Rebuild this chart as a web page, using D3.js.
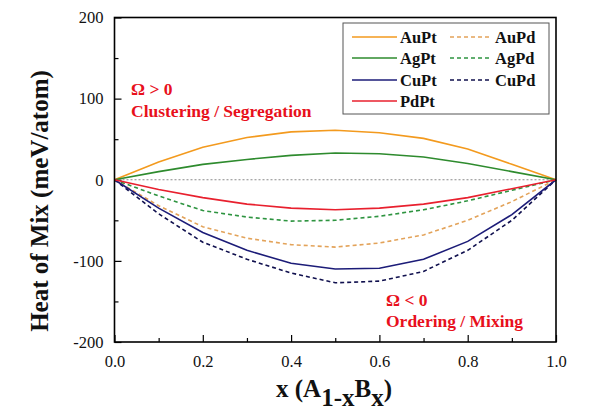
<!DOCTYPE html>
<html>
<head>
<meta charset="utf-8">
<script src="https://cdn.jsdelivr.net/npm/d3@7"></script>
<style>
  body { margin: 0; background: #fff; }
  svg { display: block; }
  text { font-family: "Liberation Serif", "Times New Roman", serif; }
</style>
</head>
<body>
<svg id="chart" width="600" height="418"></svg>
<script>
// composition x, 0 .. 1 step 0.1
const xs = [0, 0.1, 0.2, 0.3, 0.4, 0.5, 0.6, 0.7, 0.8, 0.9, 1.0];

// heat of mix values (meV/atom)
const auPt = [0, 22, 40, 52, 59, 61, 58, 51, 38, 19, 0];
const agPt = [0, 10, 19, 25, 30, 33, 32, 28, 20, 10, 0];
const cuPt = [0, -35, -65, -87, -103, -110, -109, -98, -76, -43, 0];
const pdPt = [0, -12, -22, -30, -35, -37, -35, -30, -22, -11, 0];
const auPd = [0, -32, -58, -72, -80, -83, -78, -68, -50, -27, 0];
const agPd = [0, -20, -38, -46, -51, -50, -45, -37, -26, -13, 0];
const cuPd = [0, -42, -77, -98, -115, -127, -125, -113, -87, -50, 0];

const xTicks = [0, 0.2, 0.4, 0.6, 0.8, 1.0];
const xMinor = [0.1, 0.3, 0.5, 0.7, 0.9];
const yTicks = [-200, -100, 0, 100, 200];
const yMinor = [-150, -50, 50, 150];

const series = [
    { name: 'AuPt', values: auPt, color: '#f39a1e', dash: null },
    { name: 'AgPt', values: agPt, color: '#2e8b2e', dash: null },
    { name: 'CuPt', values: cuPt, color: '#1c1c78', dash: null },
    { name: 'PdPt', values: pdPt, color: '#e8202e', dash: null },
    { name: 'AuPd', values: auPd, color: '#e3a35a', dash: '4,3' },
    { name: 'AgPd', values: agPd, color: '#2e9440', dash: '4,3' },
    { name: 'CuPd', values: cuPd, color: '#10104e', dash: '4,3' }
];

const SERIF = '"Liberation Serif", "Times New Roman", serif';

const svg = d3.select('#chart');
const g = svg.append('g');

const x = d3.scaleLinear().domain([0, 1]).range([114.5, 556]);
const y = d3.scaleLinear().domain([-200, 200]).range([342, 17.5]);

// inward ticks
g.append('g').attr('transform', 'translate(0,' + y(-200) + ')')
    .call(d3.axisBottom(x).tickValues(xTicks).tickFormat(d3.format('.1f')).tickSizeInner(-7).tickSizeOuter(0).tickPadding(13));
g.append('g').attr('transform', 'translate(0,' + y(-200) + ')')
    .call(d3.axisBottom(x).tickValues(xMinor).tickFormat('').tickSizeInner(-4).tickSizeOuter(0));
g.append('g').attr('transform', 'translate(' + x(0) + ',0)')
    .call(d3.axisLeft(y).tickValues(yTicks).tickFormat(function (d) { return String(d); }).tickSizeInner(-7).tickSizeOuter(0).tickPadding(11));
g.append('g').attr('transform', 'translate(' + x(0) + ',0)')
    .call(d3.axisLeft(y).tickValues(yMinor).tickFormat('').tickSizeInner(-4).tickSizeOuter(0));

g.selectAll('.domain').remove();
g.selectAll('.tick line').attr('stroke', '#000').attr('stroke-width', 1.2);
g.selectAll('g[font-family]').attr('font-family', SERIF).attr('font-size', 16.5);
g.selectAll('.tick text').attr('fill', '#111');

// zero line
g.append('line')
    .attr('x1', x(0)).attr('x2', x(1))
    .attr('y1', y(0)).attr('y2', y(0))
    .attr('stroke', '#8a8a8a')
    .attr('stroke-width', 1)
    .attr('stroke-dasharray', '2,2');

// curves
const line = d3.line()
    .x(function (d, i) { return x(xs[i]); })
    .y(function (d) { return y(d); });

// dashed first, solid on top
const drawOrder = ['AuPd', 'AgPd', 'CuPd', 'AuPt', 'AgPt', 'CuPt', 'PdPt'];
drawOrder.forEach(function (n) {
    const s = series.find(function (d) { return d.name === n; });
    g.append('path')
        .attr('d', line(s.values))
        .attr('fill', 'none')
        .attr('stroke', s.color)
        .attr('stroke-width', 1.6)
        .attr('stroke-dasharray', s.dash);
});

// frame
g.append('rect')
    .attr('x', x(0)).attr('y', y(200))
    .attr('width', x(1) - x(0)).attr('height', y(-200) - y(200))
    .attr('fill', 'none')
    .attr('stroke', '#000')
    .attr('stroke-width', 1.6);

// legend
const legend = g.append('g');
legend.append('rect')
    .attr('x', 343).attr('y', 23)
    .attr('width', 206).attr('height', 91)
    .attr('fill', '#fff')
    .attr('stroke', '#555')
    .attr('stroke-width', 1);

const legendRows = [37, 58, 80, 101];
const col1 = ['AuPt', 'AgPt', 'CuPt', 'PdPt'];
const col2 = ['AuPd', 'AgPd', 'CuPd'];
[col1, col2].forEach(function (col, c) {
    const lx = c === 0 ? 352 : 450;
    const len = c === 0 ? 45 : 42;
    col.forEach(function (n, r) {
        const s = series.find(function (d) { return d.name === n; });
        legend.append('line')
            .attr('x1', lx).attr('x2', lx + len)
            .attr('y1', legendRows[r]).attr('y2', legendRows[r])
            .attr('stroke', s.color)
            .attr('stroke-width', 1.6)
            .attr('stroke-dasharray', s.dash);
        legend.append('text')
            .attr('x', lx + len + 3)
            .attr('y', legendRows[r] + 5.5)
            .attr('font-size', 16.5)
            .attr('font-weight', 'bold')
            .attr('fill', '#111')
            .text(n);
    });
});

// annotations
const note = function (tx, ty, str) {
    g.append('text')
        .attr('x', tx).attr('y', ty)
        .attr('font-size', 17.5)
        .attr('font-weight', 'bold')
        .attr('fill', '#e8101c')
        .text(str);
};
note(131, 95, 'Ω > 0');
note(131, 117, 'Clustering / Segregation');
note(386, 306, 'Ω < 0');
note(386, 327, 'Ordering / Mixing');

// axis titles
g.append('text')
    .attr('transform', 'translate(48,201) rotate(-90)')
    .attr('text-anchor', 'middle')
    .attr('font-size', 25)
    .attr('font-weight', 'bold')
    .attr('fill', '#111')
    .text('Heat of Mix (meV/atom)');

const xTitle = g.append('text')
    .attr('x', 334).attr('y', 397)
    .attr('text-anchor', 'middle')
    .attr('font-size', 25)
    .attr('font-weight', 'bold')
    .attr('fill', '#111');
xTitle.append('tspan').text('x (A');
xTitle.append('tspan').attr('dy', 9).text('1-x');
xTitle.append('tspan').attr('dy', -9).text('B');
xTitle.append('tspan').attr('dy', 9).text('x');
xTitle.append('tspan').attr('dy', -9).text(')');
</script>
</body>
</html>
